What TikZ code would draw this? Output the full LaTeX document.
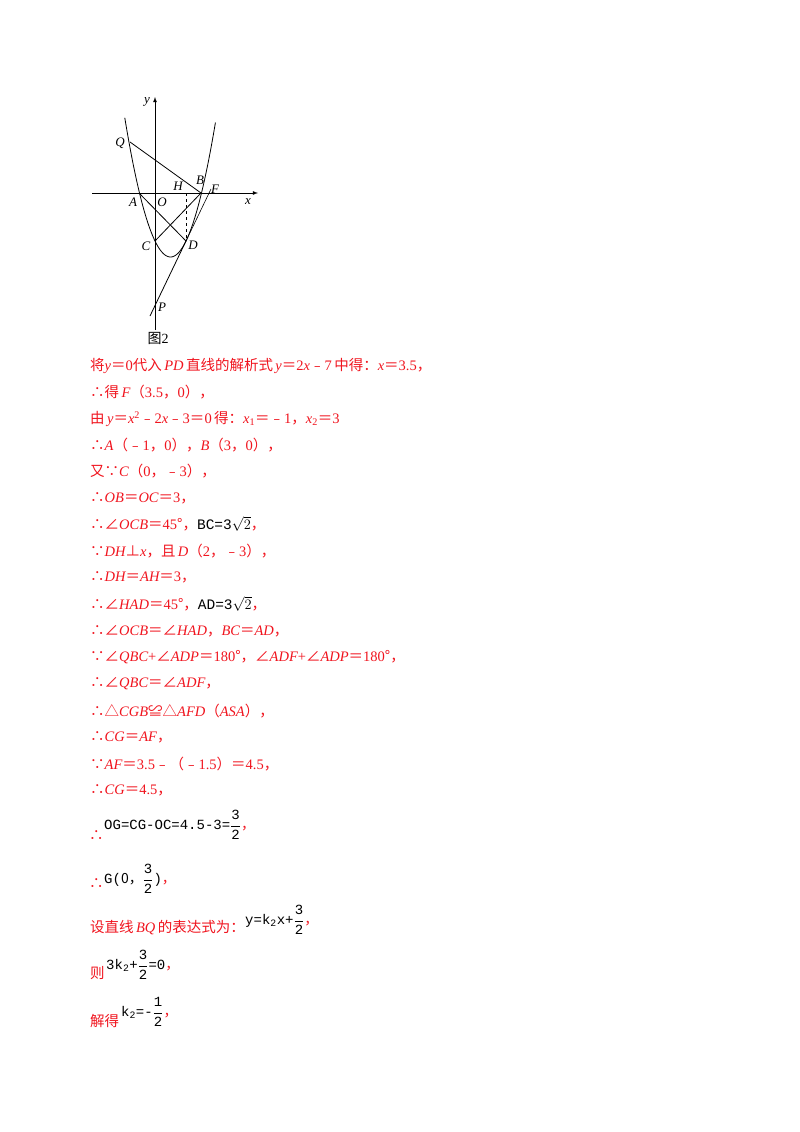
\documentclass[tikz,border=0pt]{standalone}
\usepackage{fontspec}
\setmainfont{Noto Sans CJK SC}
\newfontfamily\lser{Liberation Serif}
\newfontfamily\mono{Liberation Mono}
\newcommand{\ls}[1]{{\lser #1}}
\newcommand{\li}[1]{{\lser\itshape #1}}
\newcommand{\fr}[2]{$\displaystyle\frac{\hbox{\mono#1}}{\hbox{\mono#2}}$}
\newcommand{\rc}{{\rmfamily\color{rd}，}}
\definecolor{rd}{RGB}{240,20,30}
\begin{document}
\begin{tikzpicture}[x=1pt,y=-1pt,
  txt/.style={anchor=west,inner sep=0pt,text=rd,font=\fontsize{14.5}{16}\selectfont},
  blk/.style={anchor=west,inner sep=0pt,text=black,font=\fontsize{14}{16}\selectfont\mono},
  lab/.style={inner sep=0pt,font=\fontsize{13}{15}\selectfont\lser\itshape},
  ln/.style={line width=0.8pt}]
\useasboundingbox (0,0) rectangle (800,1132);
% axes
\coordinate (xl) at (92,193); \coordinate (xr) at (258,193);
\coordinate (yb) at (155,330); \coordinate (yt) at (155,97);
\draw[ln,-latex] (xl) -- (xr);
\draw[ln,-latex] (yb) -- (yt);
% parabola y=x^2-2x-3
\draw[ln,domain=-1.95:3.9,samples=80] plot ({155+15.5*\x},{193-16*(\x*\x-2*\x-3)});
\coordinate (Q) at (130,142); \coordinate (B) at (201,193);
\coordinate (A) at (139,193); \coordinate (C) at (155,241);
\coordinate (D) at (186,241); \coordinate (H) at (186,193);
\coordinate (Pe) at (150,316); \coordinate (Fe) at (211,189);
\draw[ln] (Q) -- (B);
\draw[ln] (A) -- (D);
\draw[ln] (C) -- (B);
\draw[ln,dashed] (H) -- (D);
\draw[ln] (Pe) -- (D);
\draw[line width=0.6pt] (D) -- (Fe);
\node[lab] (ly) at (147,102) {y};
\node[lab] (lx) at (248,202) {x};
\node[lab] (lQ) at (120,143) {Q};
\node[lab] (lH) at (178,186) {H};
\node[lab] (lB) at (200,180) {B};
\node[lab] (lF) at (215,189) {F};
\node[lab] (lA) at (133,202) {A};
\node[lab] (lO) at (162,202) {O};
\node[lab] (lC) at (146,246) {C};
\node[lab] (lD) at (193,245) {D};
\node[lab] (lP) at (162,307) {P};
\node[inner sep=0pt,font=\fontsize{14}{16}\selectfont] (fig) at (158,338) {图\ls{2}};
% text
\node[txt] (t1) at (90,366) {将\li{y}＝\ls{0}代入\,\li{PD}\,直线的解析式\,\li{y}＝\ls{2}\li{x}﹣\ls{7}\,中得：\li{x}＝\ls{3.5}，};
\node[txt] (t2) at (90,392) {∴得\,\li{F}（\ls{3.5}，\ls{0}），};
\node[txt] (t3) at (90,419) {由\,\li{y}＝\li{x}\textsuperscript{\ls{2}}﹣\ls{2}\li{x}﹣\ls{3}＝\ls{0}\,得：\li{x}\textsubscript{\ls{1}}＝﹣\ls{1}，\li{x}\textsubscript{\ls{2}}＝\ls{3}};
\node[txt] (t4) at (90,445) {∴\li{A}（﹣\ls{1}，\ls{0}），\li{B}（\ls{3}，\ls{0}），};
\node[txt] (t5) at (90,471) {又∵\li{C}（\ls{0}，﹣\ls{3}），};
\node[txt] (t6) at (90,498) {∴\li{OB}＝\li{OC}＝\ls{3}，};
\node[txt] (t7) at (90,524) {∴∠\li{OCB}＝\ls{45}°，{\color{black}\mono BC=3$\sqrt{2}$}，};
\node[txt] (t8) at (90,551) {∵\li{DH}⊥\li{x}，且\,\li{D}（\ls{2}，﹣\ls{3}），};
\node[txt] (t9) at (90,577) {∴\li{DH}＝\li{AH}＝\ls{3}，};
\node[txt] (t10) at (90,604) {∴∠\li{HAD}＝\ls{45}°，{\color{black}\mono AD=3$\sqrt{2}$}，};
\node[txt] (t11) at (90,631) {∴∠\li{OCB}＝∠\li{HAD}，\li{BC}＝\li{AD}，};
\node[txt] (t12) at (90,657) {∵∠\li{QBC}\ls{+}∠\li{ADP}＝\ls{180}°，∠\li{ADF}\ls{+}∠\li{ADP}＝\ls{180}°，};
\node[txt] (t13) at (90,684) {∴∠\li{QBC}＝∠\li{ADF}，};
\node[txt] (t14) at (90,711) {∴△\li{CGB}≌△\li{AFD}（\li{ASA}），};
\node[txt] (t15) at (90,737) {∴\li{CG}＝\li{AF}，};
\node[txt] (t16) at (90,764) {∵\li{AF}＝\ls{3.5}﹣（﹣\ls{1.5}）＝\ls{4.5}，};
\node[txt] (t17) at (90,790) {∴\li{CG}＝\ls{4.5}，};
% formulas
\node[txt] (s18) at (89,836) {∴};
\node[blk] (f18) at (104,825) {OG=CG-OC=4.5-3=\fr{3}{2}\rc};
\node[txt] (s19) at (89,884) {∴};
\node[blk] (f19) at (104,879) {G({\rmfamily 0，}\fr{3}{2})\rc};
\node[txt] (t20) at (90,928) {设直线\,\li{BQ}\,的表达式为：};
\node[blk] (f20) at (245,920) {y=k\textsubscript{2}x+\fr{3}{2}\rc};
\node[txt] (t21) at (90,973) {则};
\node[blk] (f21) at (106,965) {3k\textsubscript{2}+\fr{3}{2}=0\rc};
\node[txt] (t22) at (90,1021) {解得};
\node[blk] (f22) at (121,1012) {k\textsubscript{2}=-\fr{1}{2}\rc};
\end{tikzpicture}
\end{document}
